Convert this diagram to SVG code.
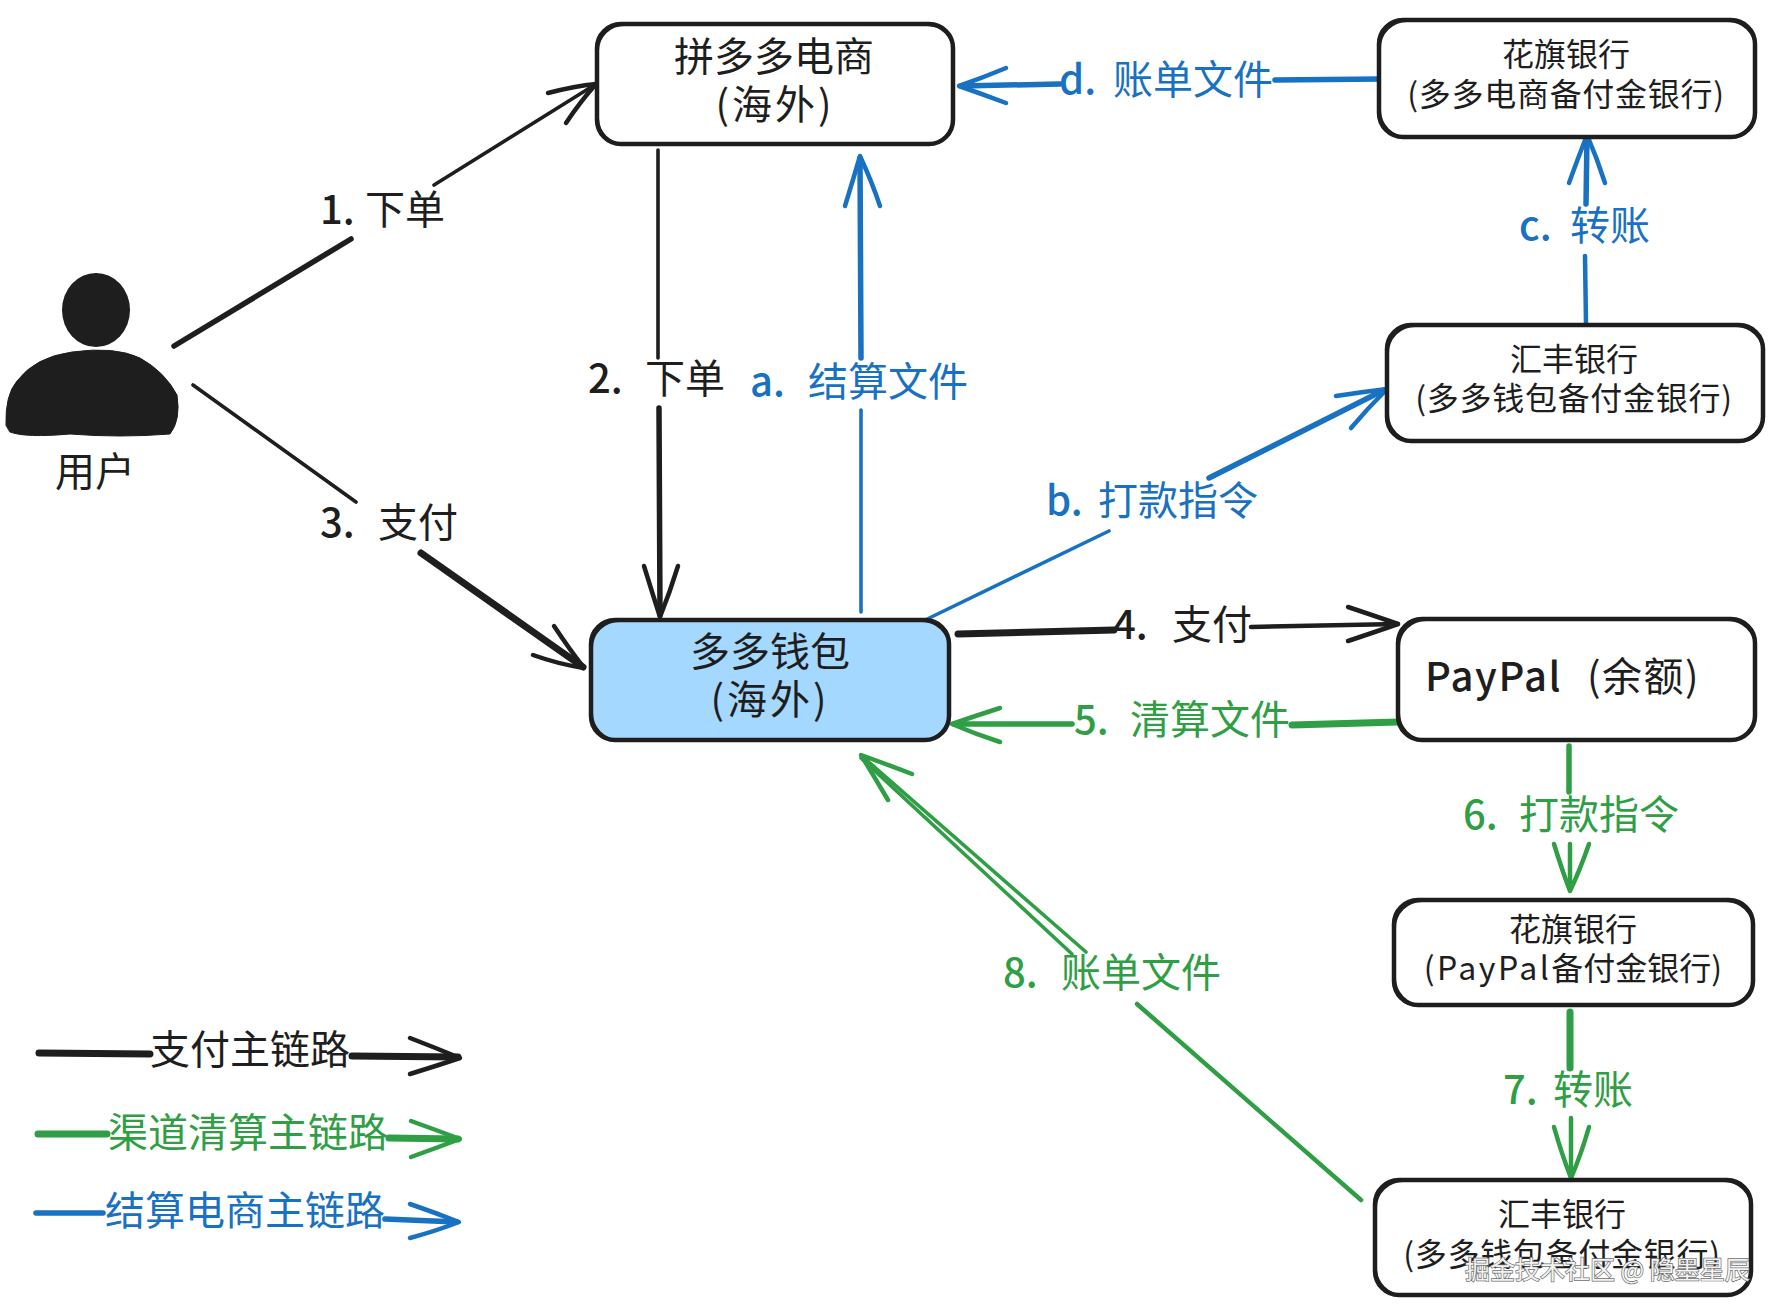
<svg xmlns="http://www.w3.org/2000/svg" width="1782" height="1316" viewBox="0 0 1782 1316">
<style>
text{font-family:"Noto Sans CJK SC","Noto Sans",sans-serif;font-size:40px;fill:#1e1e1e}
.s{font-size:32px}
.c{text-anchor:middle}
.n{font-weight:500}
.w{letter-spacing:.7px}
.p{letter-spacing:3px}
.bl{fill:#1971c2}
.gr{fill:#2f9e44}
.box{fill:#fff;stroke:#1e1e1e;stroke-width:4.5}
.box2{fill:none;stroke:#1e1e1e;stroke-width:2}
path{fill:none;stroke-linecap:round;stroke-linejoin:round}
.k{stroke:#1e1e1e}
.b{stroke:#1971c2}
.g{stroke:#2f9e44}
.t3{stroke-width:3.6}
.t4{stroke-width:4.5}
.t5{stroke-width:5.5}
.t6{stroke-width:7}
.wm{font-size:25px;fill:#f2f2f2;stroke:#6e6e6e;stroke-width:1.4;paint-order:stroke}
</style>
<rect width="1782" height="1316" fill="#fff"/>
<g id="connectors">
<path class="k t5" d="M174 346L351 239"/><path class="k t3" d="M434 185L596 84"/><path class="k t4" d="M548 93Q575 86 596 84Q580 102 566 123"/>
<path class="k t3" d="M658 150L658 358"/><path class="k t5" d="M659 408L660 615"/><path class="k t4" d="M644 566Q652 592 660 617Q670 592 678 566"/>
<path class="k t3" d="M193 385L356 502"/><path class="k t6" d="M421 553L583 667"/><path class="k t4" d="M554 626Q570 650 584 668Q558 664 533 655"/>
<path class="k t6" d="M958 634L1114 630"/><path class="k t4" d="M1251 627L1398 624"/><path class="k t4" d="M1348 607Q1375 616 1398 624Q1375 632 1348 641"/>
<path class="b t3" d="M861 612L861 410"/><path class="b t5" d="M861 358L860 158"/><path class="b t4" d="M845 206Q853 180 860 156Q872 182 880 206"/>
<path class="b t3" d="M919 623L1109 531"/><path class="b t5" d="M1209 478L1384 390"/><path class="b t4" d="M1336 396Q1362 392 1387 389Q1368 408 1351 428"/>
<path class="b t4" d="M1586 324L1585 256"/><path class="b t5" d="M1586 204L1587 137"/><path class="b t4" d="M1569 183Q1578 158 1587 135Q1597 158 1605 183"/>
<path class="b t5" d="M1381 79L1275 80"/><path class="b t5" d="M1060 84L961 86"/><path class="b t4" d="M1006 68Q982 78 959 86Q982 94 1006 103"/>
<path class="g t6" d="M1398 722L1292 725"/><path class="g t5" d="M1072 724L954 724"/><path class="g t4" d="M1000 708Q975 716 952 724Q975 734 1000 742"/>
<path class="g t5" d="M1569 746L1569 792"/><path class="g t4" d="M1570 844L1570 889"/><path class="g t4" d="M1554 844Q1562 870 1570 891Q1580 870 1589 844"/>
<path class="g t6" d="M1570 1012L1570 1068"/><path class="g t4" d="M1571 1118L1571 1176"/><path class="g t4" d="M1554 1127Q1562 1155 1571 1178Q1581 1155 1589 1127"/>
<path class="g t3" d="M1086 952L863 757"/><path class="g t3" d="M1072 954L861 758"/><path class="g t4" d="M912 774Q886 764 861 755Q875 778 888 800"/>
<path class="g t4" d="M1137 1004L1361 1200"/>
<path class="k t6" d="M39 1053L150 1054"/><path class="k t6" d="M352 1056L458 1057"/><path class="k t4" d="M410 1038Q436 1048 460 1058Q436 1066 410 1074"/>
<path class="g t6" d="M38 1134L107 1134"/><path class="g t6" d="M389 1138L458 1139"/><path class="g t4" d="M411 1121Q436 1130 460 1139Q436 1148 411 1157"/>
<path class="b t5" d="M36 1213L103 1213"/><path class="b t5" d="M385 1219L457 1222"/><path class="b t4" d="M410 1204Q436 1213 459 1222Q436 1231 410 1238"/>
</g>
<g id="user">
<ellipse cx="96" cy="310" rx="34" ry="37" fill="#1e1e1e"/>
<path d="M6 425Q5 395 17 381Q35 357 72 352Q115 346 140 358Q165 372 177 395Q181 420 170 434Q120 438 70 434Q25 438 10 432Z" style="fill:#1e1e1e;stroke:#1e1e1e"/>
<text class="c" x="95" y="486">用户</text>
</g>
<g id="pdd">
<rect class="box" x="597" y="24" width="356" height="120" rx="24"/><rect class="box2" x="598" y="25" width="355" height="119" rx="26"/>
<text class="c" x="774" y="71">拼多多电商</text><text class="c p" x="775" y="119">(海外)</text>
</g>
<g id="wallet">
<rect class="box" x="591" y="620" width="358" height="120" rx="24" style="fill:#a5d8ff"/><rect class="box2" x="592" y="621" width="357" height="119" rx="27"/>
<text class="c" x="770" y="666">多多钱包</text><text class="c p" x="770" y="714">(海外)</text>
</g>
<g id="citi-top">
<rect class="box" x="1379" y="20" width="376" height="117" rx="24"/><rect class="box2" x="1380" y="21" width="375" height="116" rx="27"/>
<text class="c s" x="1566" y="66">花旗银行</text><text class="c s w" x="1566" y="106">(多多电商备付金银行)</text>
</g>
<g id="hsbc-top">
<rect class="box" x="1387" y="325" width="376" height="116" rx="24"/><rect class="box2" x="1388" y="326" width="375" height="115" rx="27"/>
<text class="c s" x="1574" y="371">汇丰银行</text><text class="c s w" x="1574" y="410">(多多钱包备付金银行)</text>
</g>
<g id="paypal">
<rect class="box" x="1398" y="619" width="357" height="121" rx="24"/><rect class="box2" x="1399" y="620" width="356" height="120" rx="27"/>
<text x="1425" y="691"><tspan class="n" letter-spacing="1.5">PayPal </tspan><tspan x="1587" letter-spacing="1.5">(余额)</tspan></text>
</g>
<g id="citi-bottom">
<rect class="box" x="1394" y="900" width="359" height="105" rx="24"/><rect class="box2" x="1395" y="901" width="358" height="104" rx="27"/>
<text class="c s" x="1573" y="941">花旗银行</text><text class="c s" x="1573" y="980"><tspan letter-spacing="2.5">(PayPal</tspan>备付金银行)</text>
</g>
<g id="hsbc-bottom">
<rect class="box" x="1375" y="1180" width="376" height="115" rx="24"/><rect class="box2" x="1376" y="1181" width="375" height="114" rx="27"/>
<text class="c s" x="1562" y="1226">汇丰银行</text><text class="c s w" x="1562" y="1266">(多多钱包备付金银行)</text>
</g>
<g id="labels">
<text x="320" y="224"><tspan class="n">1. </tspan><tspan x="365">下单</tspan></text>
<text x="588" y="393"><tspan class="n">2. </tspan><tspan x="645">下单</tspan></text>
<text x="320" y="537"><tspan class="n">3. </tspan><tspan x="378">支付</tspan></text>
<text x="1113" y="639"><tspan class="n">4. </tspan><tspan x="1172">支付</tspan></text>
<text class="gr" x="1074" y="734"><tspan class="n">5. </tspan><tspan x="1130">清算文件</tspan></text>
<text class="gr" x="1463" y="829"><tspan class="n">6. </tspan><tspan x="1519">打款指令</tspan></text>
<text class="gr" x="1503" y="1104"><tspan class="n">7. </tspan><tspan x="1553">转账</tspan></text>
<text class="gr" x="1003" y="987"><tspan class="n">8. </tspan><tspan x="1061">账单文件</tspan></text>
<text class="bl" x="750" y="396"><tspan class="n">a. </tspan><tspan x="808">结算文件</tspan></text>
<text class="bl" x="1046" y="515"><tspan class="n">b. </tspan><tspan x="1098">打款指令</tspan></text>
<text class="bl" x="1519" y="240"><tspan class="n">c. </tspan><tspan x="1570">转账</tspan></text>
<text class="bl" x="1059" y="94"><tspan class="n">d. </tspan><tspan x="1113">账单文件</tspan></text>
</g>
<g id="legend">
<text x="150" y="1064">支付主链路</text>
<text class="gr" x="108" y="1147">渠道清算主链路</text>
<text class="bl" x="105" y="1225">结算电商主链路</text>
</g>
<text class="wm" x="1465" y="1279">掘金技术社区 @ 隐墨星辰</text>
</svg>
